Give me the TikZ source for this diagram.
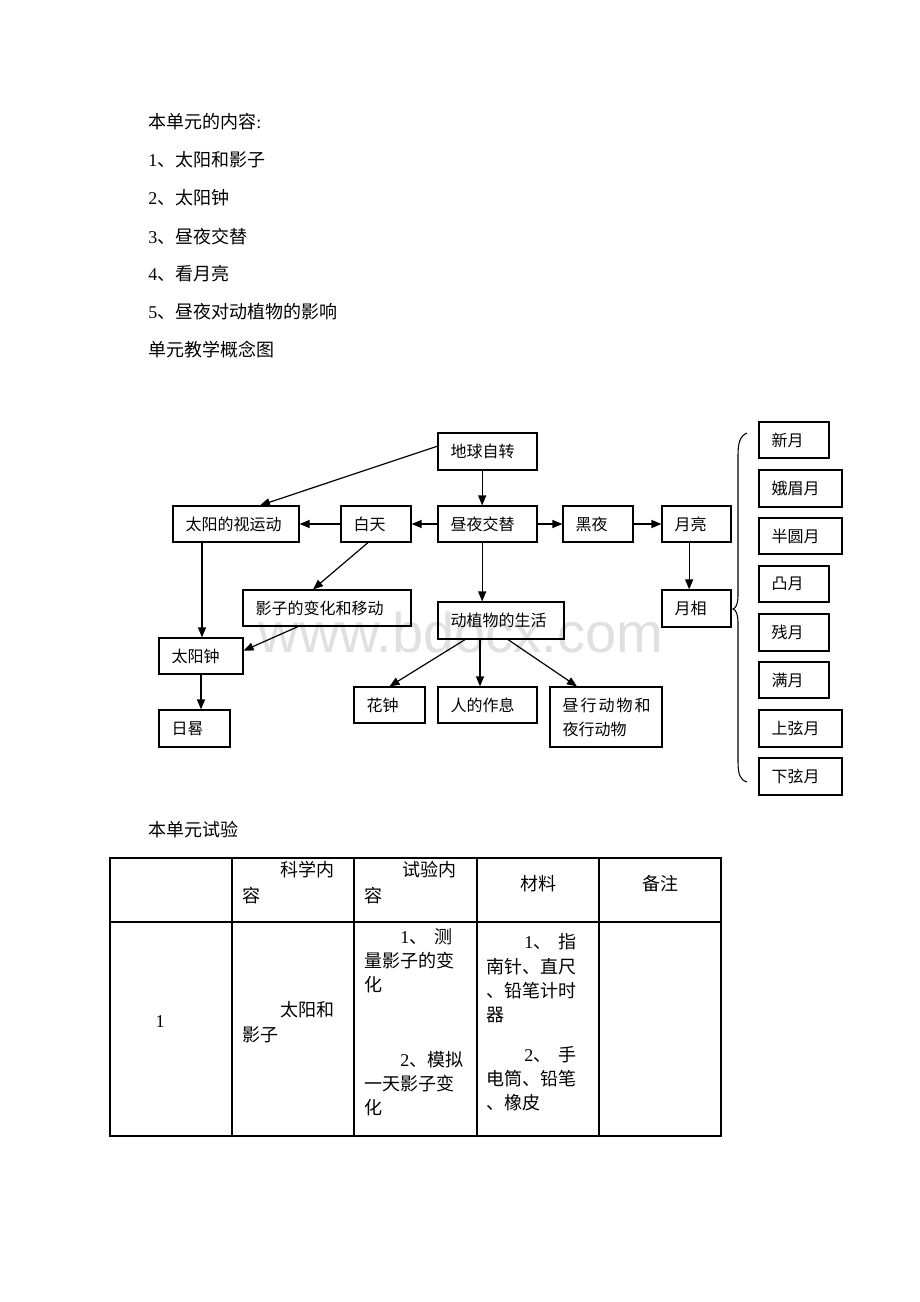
\documentclass[tikz,border=0pt]{standalone}
\usepackage{fontspec}
\setmainfont{Liberation Serif}
\newfontfamily\cjk{Noto Sans CJK SC}
\newfontfamily\wmfont{Liberation Sans}
\usetikzlibrary{arrows.meta,fit,calc}
\newcommand\zh[1]{{\cjk #1}}
\newcommand\bx[6]{\node[box, fit={(#2,#3)(#4,#5)}] (#1) {};
  \node[lbl, anchor=west] (#1t) at ([xshift=9.75pt]#1.west) {#6};}
\newcommand\tl[4]{\node[txt] (#1) at (#2,#3) {#4};}
\begin{document}
\begin{tikzpicture}[x=0.75pt,y=-0.75pt,
  box/.style={draw, line width=0.9pt, inner sep=0pt},
  lbl/.style={font=\fontsize{12}{18}\selectfont\cjk, inner sep=0pt, align=left},
  txt/.style={font=\fontsize{13.5}{16}\selectfont, inner sep=0pt, anchor=west},
  arr/.style={line width=0.9pt, -{Triangle[length=7.5pt,width=6pt]}}]
\useasboundingbox[fill=white] (0,0) rectangle (920,1302);

% watermark
\node[text=black!12, font=\wmfont\fontsize{42}{42}\selectfont, inner sep=0pt] (wm) at (461,632) {www.bdocx.com};

% intro text
\tl{h1}{148}{122}{\zh{本单元的内容}:}
\tl{l1}{148}{160}{1\zh{、太阳和影子}}
\tl{l2}{148}{198}{2\zh{、太阳钟}}
\tl{l3}{148}{237}{3\zh{、昼夜交替}}
\tl{l4}{148}{274}{4\zh{、看月亮}}
\tl{l5}{148}{312}{5\zh{、昼夜对动植物的影响}}
\tl{h2}{148}{350}{\zh{单元教学概念图}}

% concept map boxes
\bx{dq}{438}{433}{537}{470}{地球自转}
\bx{ty}{173}{506}{299}{542}{太阳的视运动}
\bx{bt}{341}{506}{411}{542}{白天}
\bx{zy}{438}{506}{537}{542}{昼夜交替}
\bx{hy}{563}{506}{633}{542}{黑夜}
\bx{yl}{662}{506}{731}{542}{月亮}
\bx{yx}{662}{590}{731}{627}{月相}
\bx{yz}{243}{590}{411}{626}{影子的变化和移动}
\bx{dz}{438}{602}{564}{639}{动植物的生活}
\bx{tz}{159}{638}{243}{674}{太阳钟}
\bx{rg}{159}{710}{230}{747}{日晷}
\bx{hz}{354}{687}{425}{723}{花钟}
\bx{rz}{438}{687}{537}{723}{人的作息}
\bx{zx}{550}{687}{662}{747}{昼\kern1.5pt 行\kern1.5pt 动\kern1.5pt 物\kern1.5pt 和\\夜行动物}

\bx{m1}{759}{422}{829}{458}{新月}
\bx{m2}{759}{470}{842}{507}{娥眉月}
\bx{m3}{759}{518}{842}{554}{半圆月}
\bx{m4}{759}{566}{829}{602}{凸月}
\bx{m5}{759}{614}{829}{651}{残月}
\bx{m6}{759}{662}{829}{698}{满月}
\bx{m7}{759}{710}{842}{747}{上弦月}
\bx{m8}{759}{758}{842}{795}{下弦月}

% brace
\draw[line width=0.8pt] (747,433) .. controls (740,436) and (738,443) .. (738,455)
  -- (738,595) .. controls (738,604) and (736,608) .. (733,609)
  .. controls (736,610) and (738,614) .. (738,623)
  -- (738,762) .. controls (738,774) and (740,780) .. (747,782);

% arrows
\draw[arr] ([yshift=4pt]dq.west) -- ([xshift=18pt]ty.north);
\draw[arr] ([xshift=-4pt]dq.south) -- ([xshift=-4pt]zy.north);
\draw[arr] (zy.west) -- (bt.east);
\draw[arr] (bt.west) -- (ty.east);
\draw[arr] (zy.east) -- (hy.west);
\draw[arr] (hy.east) -- (yl.west);
\draw[arr] ([xshift=-5.5pt]yl.south) -- ([xshift=-5.5pt]yx.north);
\draw[arr] ([xshift=-6pt]bt.south) -- ([xshift=-10.5pt]yz.north);
\draw[arr] ([xshift=-4pt]zy.south) -- ([xshift=-4pt]zy.south |- dz.north);
\draw[arr] ([xshift=-25.5pt]ty.south) -- ([xshift=-25.5pt]ty.south |- tz.north);
\draw[arr] ([xshift=-21.75pt]yz.south) -- ([yshift=4pt]tz.east);
\draw[arr] (tz.south) -- (tz.south |- rg.north);
\draw[arr] ([xshift=-27pt]dz.south) -- (hz.north);
\draw[arr] ([xshift=-15.75pt]dz.south) -- ([xshift=-15.75pt]dz.south |- rz.north);
\draw[arr] ([xshift=5.25pt]dz.south) -- ([xshift=-21.75pt]zx.north);

% table
\tl{h3}{148}{830}{\zh{本单元试验}}
\draw[line width=0.8pt] (110,858) rectangle (721,1136);
\draw[line width=0.8pt] (110,922) -- (721,922);
\foreach \cx in {232,354,477,599} \draw[line width=0.8pt] (\cx,858) -- (\cx,1136);

\tl{c2a}{280}{870}{\zh{科学内}}
\tl{c2b}{242}{896}{\zh{容}}
\tl{c3a}{402}{870}{\zh{试验内}}
\tl{c3b}{364}{896}{\zh{容}}
\node[txt, anchor=center] (c4) at (538,884) {\zh{材料}};
\node[txt, anchor=center] (c5) at (660,884) {\zh{备注}};

\node[txt, anchor=center] (r1) at (160,1022) {1};
\tl{r2a}{280}{1010}{\zh{太阳和}}
\tl{r2b}{242}{1035}{\zh{影子}}
\tl{r3a}{400}{937}{1\zh{、}\hspace{0.4em}\zh{测}}
\tl{r3b}{364}{961}{\zh{量影子的变}}
\tl{r3c}{364}{985}{\zh{化}}
\tl{r3d}{400}{1060}{2\zh{、模拟}}
\tl{r3e}{364}{1084}{\zh{一天影子变}}
\tl{r3f}{364}{1108}{\zh{化}}
\tl{r4a}{524}{942}{1\zh{、}\hspace{0.4em}\zh{指}}
\tl{r4b}{486}{967}{\zh{南针、直尺}}
\tl{r4c}{486}{991}{\zh{、铅笔计时}}
\tl{r4d}{486}{1015}{\zh{器}}
\tl{r4e}{524}{1055}{2\zh{、}\hspace{0.4em}\zh{手}}
\tl{r4f}{486}{1079}{\zh{电筒、铅笔}}
\tl{r4g}{486}{1103}{\zh{、橡皮}}
\end{tikzpicture}
\end{document}
